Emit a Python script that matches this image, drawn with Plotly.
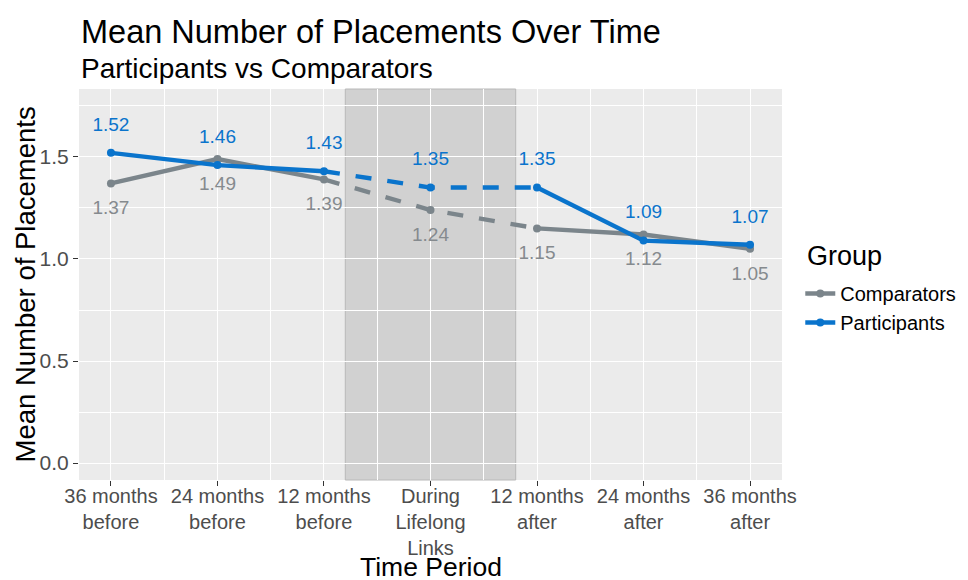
import plotly.graph_objects as go

periods = ["36 months<br>before", "24 months<br>before", "12 months<br>before",
           "During<br>Lifelong<br>Links", "12 months<br>after", "24 months<br>after", "36 months<br>after"]
comparators = [1.37, 1.49, 1.39, 1.24, 1.15, 1.12, 1.05]
participants = [1.52, 1.46, 1.43, 1.35, 1.35, 1.09, 1.07]

GRAY = "#7b858b"
GRAY_TXT = "#858a8e"
BLUE = "#0a74cc"
FONT = "Liberation Sans, Arial, sans-serif"

# page has an 8px body margin; panel target (page px): x 79..782, y 89..480
W, H = 960, 572
ML, MT = 71, 81
MR, MB = W - 774, H - 472

xs = list(range(len(periods)))
fig = go.Figure()

def add_group(name, vals, color, txtcolor, label_off):
    solid = [v if i != 3 else None for i, v in enumerate(vals)]
    fig.add_trace(go.Scatter(x=xs, y=solid, mode="lines+markers", name=name,
                             line=dict(color=color, width=4.4),
                             marker=dict(color=color, size=8), connectgaps=False,
                             legendgroup=name))
    fig.add_trace(go.Scatter(x=xs[2:5], y=vals[2:5], mode="lines", showlegend=False,
                             line=dict(color=color, width=4.4, dash="16px,16px"),
                             legendgroup=name, hoverinfo="skip"))
    fig.add_trace(go.Scatter(x=[xs[3]], y=[vals[3]], mode="markers", showlegend=False,
                             marker=dict(color=color, size=8), legendgroup=name))
    fig.add_trace(go.Scatter(x=xs, y=[v + label_off for v in vals], mode="text",
                             text=[f"{v:.2f}" for v in vals], showlegend=False,
                             textfont=dict(color=txtcolor, size=19, family=FONT),
                             hoverinfo="skip"))

add_group("Comparators", comparators, GRAY, GRAY_TXT, -0.128)
add_group("Participants", participants, BLUE, BLUE, 0.132)

fig.add_shape(type="rect", xref="x", yref="paper", x0=2.2, x1=3.8, y0=0, y1=1,
              fillcolor="rgba(150,150,150,0.3)", line=dict(color="#b8b8b8", width=1),
              layer="between")

PH = 391.0
fig.update_layout(
    width=W, height=H,
    margin=dict(l=ML, r=MR, t=MT, b=MB, autoexpand=False),
    paper_bgcolor="white", plot_bgcolor="#EBEBEB",
    font=dict(family=FONT, color="black"),
    showlegend=True,
    legend=dict(x=1.026, y=0.527, xanchor="left", yanchor="top",
                font=dict(size=20, color="black"), bgcolor="white",
                tracegroupgap=0),
    xaxis=dict(range=[-0.3, 6.3], tickvals=xs, ticktext=periods, showgrid=True,
               gridcolor="white", gridwidth=1.2, zeroline=False,
               ticks="outside", ticklen=5, tickcolor="#333333", tickwidth=1.1,
               ticklabelstandoff=-7,
               tickfont=dict(size=20, color="#4d4d4d"),
               minor=dict(dtick=0.5, tick0=0.5, showgrid=True, gridcolor="white", gridwidth=0.6, ticks="")),
    yaxis=dict(range=[-0.083, 1.833], tickvals=[0, 0.5, 1.0, 1.5], tickformat=".1f",
               showgrid=True, gridcolor="white", gridwidth=1.2, zeroline=False,
               ticks="outside", ticklen=5, tickcolor="#333333", tickwidth=1.1,
               tickfont=dict(size=21, color="#4d4d4d"),
               minor=dict(dtick=0.25, tick0=0.25, showgrid=True, gridcolor="white", gridwidth=0.6, ticks="")),
    annotations=[
        dict(text="Mean Number of Placements Over Time", xref="paper", yref="paper",
             x=0, y=(480 - 32) / PH, xanchor="left", yanchor="middle", showarrow=False,
             font=dict(size=32.5, color="black")),
        dict(text="Participants vs Comparators", xref="paper", yref="paper",
             x=0, y=(480 - 68) / PH, xanchor="left", yanchor="middle", showarrow=False,
             font=dict(size=28, color="black")),
        dict(text="Time Period", xref="paper", yref="paper",
             x=0.5, y=(480 - 567) / PH, xanchor="center", yanchor="middle", showarrow=False,
             font=dict(size=26.5, color="black")),
        dict(text="Mean Number of Placements", xref="paper", yref="paper",
             x=(25 - 79) / 703, y=0.5, xanchor="center", yanchor="middle", showarrow=False,
             textangle=-90, font=dict(size=27.5, color="black")),
        dict(text="Group", xref="paper", yref="paper",
             x=(805 - 79) / 703, y=(480 - 256) / PH, xanchor="left", yanchor="middle",
             showarrow=False, font=dict(size=27, color="black")),
    ],
)

fig.write_html("out.html")
